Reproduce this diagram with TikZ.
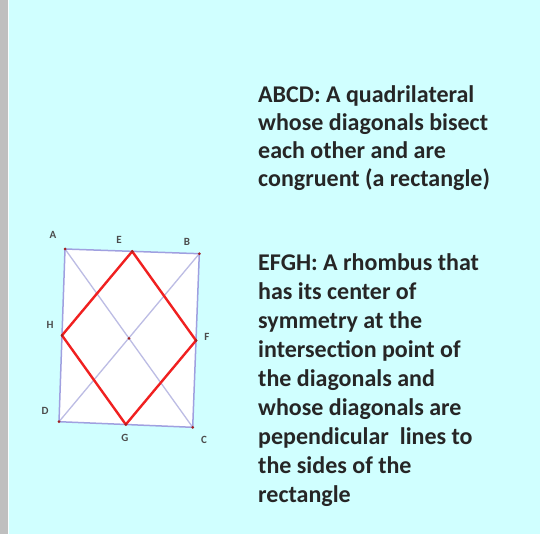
\documentclass[tikz,border=0pt]{standalone}
\usepackage{fontspec}
\setmainfont{Carlito}
\begin{document}
\begin{tikzpicture}[x=1pt,y=-1pt,
  side/.style={draw=rectedge,line width=1.5pt},
  diag/.style={draw=diagcol,line width=1.3pt},
  rhomb/.style={draw=rhombred,line width=2.4pt,line join=round},
  pt/.style={circle,fill=ptcol,inner sep=0pt,minimum size=3pt},
  lbl/.style={font=\fontsize{11}{12}\selectfont\bfseries,text=black!70,inner sep=0pt},
  body/.style={align=left,anchor=north west,inner sep=0pt,text=black!85}]
\definecolor{bg}{HTML}{D0FFFF}
\definecolor{rectedge}{HTML}{A0A0E0}
\definecolor{diagcol}{HTML}{BCBCE4}
\definecolor{rhombred}{HTML}{F02020}
\definecolor{ptcol}{HTML}{A02020}
\useasboundingbox (0,0) rectangle (540,534);
\fill[bg] (0,0) rectangle (540,534);
\fill[black!25] (0,0) rectangle (7.5,534);
\fill[white!85!bg] (7.5,0) rectangle (8.5,534);
% points
\coordinate (A) at (65,249);
\coordinate (B) at (199.3,253.7);
\coordinate (C) at (192.7,427.3);
\coordinate (D) at (59,421.7);
\coordinate (E) at (132.2,251.4);
\coordinate (F) at (196,340.5);
\coordinate (G) at (125.8,424.5);
\coordinate (H) at (62,335.4);
\coordinate (O) at (129,338.3);
\fill[white] (A) -- (B) -- (C) -- (D) -- cycle;
\draw[diag] (A) -- (C);
\draw[diag] (B) -- (D);
\draw[side] (A) -- (B) -- (C) -- (D) -- cycle;
\draw[rhomb] (E) -- (F) -- (G) -- (H) -- cycle;
\foreach \p in {A,B,C,D,E,F,G,H,O} \node[pt] (p\p) at (\p) {};
\node[lbl] (lA) at (53,235) {A};
\node[lbl] (lE) at (119,240) {E};
\node[lbl] (lB) at (187,242) {B};
\node[lbl] (lH) at (50,325) {H};
\node[lbl] (lF) at (207,337) {F};
\node[lbl] (lD) at (45,411) {D};
\node[lbl] (lG) at (125,438) {G};
\node[lbl] (lC) at (204,440) {C};
\node[body,font=\fontsize{24}{28}\selectfont\bfseries] (t1) at (258,85) {ABCD: A quadrilateral\\whose diagonals bisect\\each other and are\\congruent (a rectangle)};
\node[body,font=\fontsize{24}{29}\selectfont\bfseries] (t2) at (258,253) {EFGH: A rhombus that\\has its center of\\symmetry at the\\intersection point of\\the diagonals and\\whose diagonals are\\pependicular\ \ lines to\\the sides of the\\rectangle};
\end{tikzpicture}
\end{document}
